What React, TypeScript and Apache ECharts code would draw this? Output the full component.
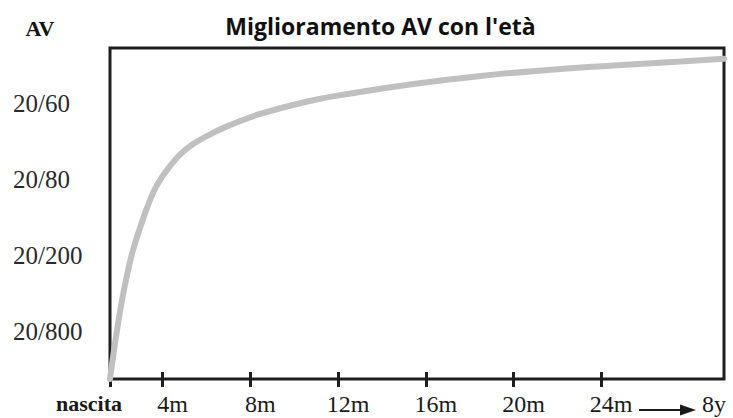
import React, { useEffect, useRef } from "react";
import * as echarts from "echarts";

// Position units: x in "tick slots" from birth, y in acuity levels from the baseline
const xTickPos = [0, 0.6, 1.6, 2.6, 3.6, 4.6, 5.6];
const xLabelPos = [0, 0.6, 1.6, 2.6, 3.6, 4.6, 5.6, 7];
const xLabels = ["nascita", "4m", "8m", "12m", "16m", "20m", "24m", "8y"];
const yLabelPos = [0.625, 1.62, 2.62, 3.62];
const yLabels = ["20/800", "20/200", "20/80", "20/60"];
const curveX = [0, 0.046, 0.091, 0.137, 0.194, 0.263, 0.342, 0.434, 0.537, 0.685, 0.856, 1.084, 1.37, 1.712, 2.226, 2.705, 3.459, 4.224, 4.989, 5.742, 6.507, 7.0];
const curveY = [0, 0.382, 0.72, 1.039, 1.368, 1.697, 1.987, 2.289, 2.553, 2.803, 3.013, 3.184, 3.342, 3.487, 3.645, 3.75, 3.882, 3.987, 4.066, 4.125, 4.178, 4.212];
const xMax = 7;
const yMax = 4.355;

const SERIF = "'Liberation Serif', 'Times New Roman', serif";

export default function App() {
  const ref = useRef<HTMLDivElement>(null);
  useEffect(() => {
    if (!ref.current) return;
    const chart = echarts.init(ref.current, null, { renderer: "svg" });
    const findIdx = (arr: number[], v: number) => arr.findIndex((a) => Math.abs(a - v) < 1e-6);
    chart.setOption({
      animation: false,
      backgroundColor: "#ffffff",
      grid: {
        left: 110,
        top: 48,
        right: 9,
        bottom: 39,
        show: true,
        borderColor: "#1e1e1e",
        borderWidth: 3,
      },
      xAxis: [
        {
          type: "value",
          min: 0,
          max: xMax,
          position: "bottom",
          axisLine: { show: false },
          splitLine: { show: false },
          axisTick: {
            show: true,
            customValues: xTickPos,
            length: 8,
            lineStyle: { color: "#1e1e1e", width: 3 },
          },
          axisLabel: {
            customValues: xLabelPos,
            margin: 13,
            formatter: (v: number) => {
              const i = findIdx(xLabelPos, v);
              if (i < 0) return "";
              if (i === 0) return "{n|" + xLabels[i] + "}";
              if (i === xLabels.length - 1) return "{e|" + xLabels[i] + "}";
              return "{m|" + xLabels[i] + "}";
            },
            rich: {
              n: { fontFamily: SERIF, fontSize: 22, fontWeight: "bold", color: "#1a1a1a", padding: [0, 42, 0, 0] },
              m: { fontFamily: SERIF, fontSize: 24, color: "#1a1a1a", padding: [0, 0, 0, 20] },
              e: { fontFamily: SERIF, fontSize: 24, color: "#1a1a1a", padding: [0, 20, 0, 0] },
            },
          },
        },
        {
          type: "value",
          min: 0,
          max: xMax,
          position: "bottom",
          axisLine: { show: false },
          splitLine: { show: false },
          axisLabel: { show: false },
          axisTick: {
            show: true,
            inside: true,
            customValues: xTickPos.slice(1),
            length: 7,
            lineStyle: { color: "#1e1e1e", width: 3 },
          },
        },
      ],
      yAxis: {
        type: "value",
        min: 0,
        max: yMax,
        axisLine: { show: false },
        axisTick: { show: false },
        splitLine: { show: false },
        axisLabel: {
          customValues: yLabelPos,
          align: "left",
          margin: 97,
          fontFamily: SERIF,
          fontSize: 25,
          color: "#2a2a2a",
          formatter: (v: number) => {
            const i = findIdx(yLabelPos, v);
            return i < 0 ? "" : yLabels[i];
          },
        },
      },
      series: [
        {
          type: "line",
          xAxisIndex: 0,
          data: curveX.map((x, i) => [x, curveY[i]]),
          smooth: 0.5,
          showSymbol: false,
          lineStyle: { color: "#c0c0c0", width: 6, cap: "round" },
          z: 1,
        },
      ],
      graphic: [
        {
          type: "text",
          x: 380.5,
          y: 26,
          style: {
            text: "Miglioramento AV con l'età",
            font: "bold 23px 'Open Sans', sans-serif",
            fill: "#111",
            align: "center",
            verticalAlign: "middle",
          },
        },
        {
          type: "text",
          x: 40,
          y: 28,
          style: {
            text: "AV",
            font: "bold 22px " + SERIF,
            fill: "#111",
            align: "center",
            verticalAlign: "middle",
          },
        },
        {
          type: "line",
          shape: { x1: 639, y1: 410, x2: 683, y2: 410 },
          style: { stroke: "#1a1a1a", lineWidth: 2 },
        },
        {
          type: "polygon",
          shape: { points: [[680, 404.5], [696, 410], [680, 415.5]] },
          style: { fill: "#1a1a1a" },
        },
      ],
    });
    return () => chart.dispose();
  }, []);
  return (
    <div
      ref={ref}
      style={{ position: "fixed", left: 0, top: 0, width: 733, height: 418 }}
    />
  );
}
